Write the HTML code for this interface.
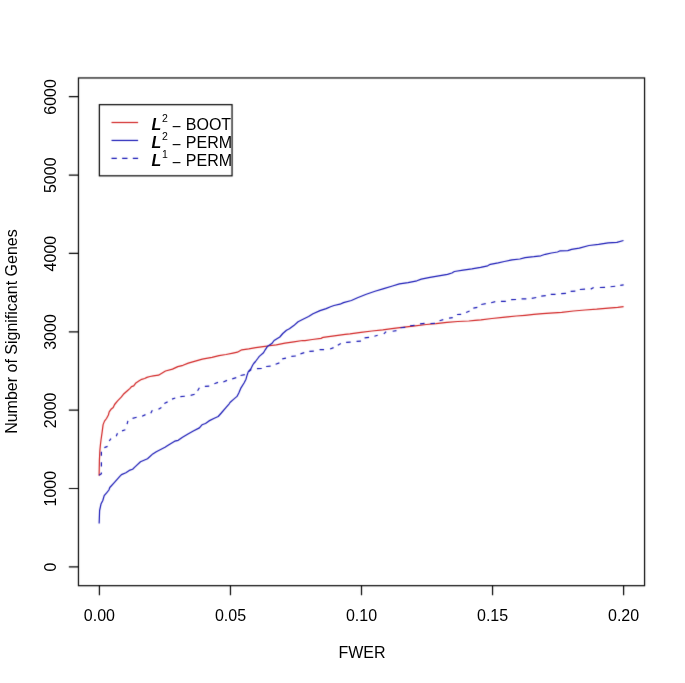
<!DOCTYPE html>
<html><head><meta charset="utf-8"><style>
html,body{margin:0;padding:0;background:#fff;}
svg{display:block;}
text{font-family:"Liberation Sans",Arial,sans-serif;font-size:16px;fill:#000;}
</style></head><body>
<svg width="685" height="683" viewBox="0 0 685 683">
<defs><filter id="bl" x="0" y="0" width="685" height="683" filterUnits="userSpaceOnUse" color-interpolation-filters="sRGB"><feConvolveMatrix order="3" kernelMatrix="0.01134 0.08382 0.01134 0.08382 0.61935 0.08382 0.01134 0.08382 0.01134" divisor="1" edgeMode="duplicate"/></filter></defs>
<g filter="url(#bl)">
<rect x="0" y="0" width="685" height="683" fill="#fff"/>
<g fill="none" stroke-width="1.2" stroke-linejoin="round" stroke-linecap="butt">
<path d="M99.10 475.80 L99.40 460.40 L99.90 450.10 L100.40 445.00 L101.00 440.00 L102.20 431.60 L103.10 424.60 L104.50 421.10 L106.50 418.50 L108.40 415.00 L109.20 411.90 L111.00 409.30 L113.20 407.50 L114.60 404.50 L117.60 400.90 L121.20 397.20 L123.40 394.30 L127.10 391.00 L130.00 388.40 L131.50 386.60 L133.70 385.90 L135.90 382.90 L138.80 381.10 L141.70 379.30 L144.70 378.50 L146.90 377.40 L150.00 376.50 L153.30 375.80 L158.50 375.20 L165.50 371.00 L172.50 369.10 L177.80 366.60 L183.00 365.30 L188.30 363.10 L195.30 361.20 L202.30 359.20 L205.00 358.60 L212.00 357.40 L219.00 355.70 L226.00 354.50 L233.00 353.10 L237.40 352.20 L241.80 349.80 L248.80 348.90 L255.80 347.60 L265.00 346.30 L267.50 346.00 L276.30 344.90 L285.00 343.10 L293.80 341.80 L302.50 340.50 L305.00 340.60 L312.30 339.50 L321.10 338.40 L323.20 337.30 L334.20 335.80 L345.10 334.40 L350.00 333.90 L360.90 332.40 L371.90 331.00 L382.80 329.90 L393.80 328.40 L400.00 327.60 L413.10 326.20 L426.30 324.50 L436.00 323.70 L446.90 322.30 L457.80 321.50 L468.80 321.00 L475.00 320.40 L481.00 319.90 L491.90 318.50 L502.80 317.40 L507.50 316.90 L516.30 316.00 L525.00 315.30 L533.80 314.40 L542.50 313.60 L550.00 313.10 L561.70 312.30 L573.40 311.00 L585.00 310.00 L596.70 309.20 L608.40 308.10 L617.70 307.30 L623.60 306.60" stroke="#d02020"/>
<path d="M99.15 523.40 L99.60 510.50 L101.00 504.10 L102.80 500.50 L104.20 495.60 L106.60 492.90 L108.90 490.00 L109.80 487.50 L114.50 482.30 L120.00 476.20 L121.50 474.60 L125.90 472.70 L130.00 470.10 L132.60 469.20 L135.30 466.60 L140.50 461.80 L147.50 458.70 L152.80 453.90 L156.30 451.70 L165.00 447.30 L168.50 445.10 L174.70 441.20 L178.20 440.30 L182.50 437.30 L188.00 434.00 L193.30 431.00 L199.40 427.90 L202.00 424.80 L205.50 423.50 L209.00 420.90 L214.30 418.30 L218.20 416.50 L221.30 413.00 L225.70 407.80 L229.20 403.80 L230.00 402.50 L233.50 399.40 L237.00 396.40 L238.80 392.90 L240.70 388.40 L244.20 382.80 L246.00 379.20 L247.10 375.20 L248.20 371.90 L250.80 369.00 L252.60 365.30 L253.70 363.50 L255.50 361.50 L258.10 358.00 L259.30 356.40 L263.50 352.80 L265.20 349.80 L267.30 346.60 L271.80 343.60 L274.10 340.50 L279.80 337.00 L282.80 333.50 L286.50 330.20 L289.40 328.70 L293.80 325.60 L298.10 321.70 L302.50 319.50 L308.60 316.50 L313.00 313.80 L320.00 310.60 L326.20 308.60 L330.50 306.80 L334.00 305.50 L340.00 304.20 L343.50 302.60 L351.40 300.50 L357.50 297.80 L366.30 294.30 L375.00 291.30 L383.80 288.60 L392.50 286.00 L399.40 283.90 L408.10 282.60 L416.90 280.80 L421.30 279.10 L430.00 277.30 L438.80 275.80 L447.50 274.40 L451.90 273.00 L454.40 271.50 L463.10 270.20 L471.90 268.90 L480.60 267.30 L487.70 265.80 L490.30 264.30 L498.20 262.90 L504.30 261.50 L512.00 259.80 L519.90 259.00 L525.10 257.60 L533.90 256.70 L540.90 255.80 L545.30 254.30 L551.40 253.00 L557.50 252.00 L560.20 250.80 L567.80 250.60 L571.60 249.40 L579.30 248.20 L589.00 245.50 L598.60 244.40 L608.20 242.90 L616.90 242.30 L623.50 240.50" stroke="#1414b4"/>
<path d="M99.10 475.30 L101.40 473.70 L101.40 472.50 M101.40 466.45 L101.40 462.25 M101.40 455.75 L101.40 451.75 M104.33 447.57 L107.57 446.33 M109.21 441.02 L110.99 438.58 M116.23 436.28 L117.47 433.32 M122.03 430.88 L125.37 429.72 M127.09 424.16 L127.91 420.94 M132.54 418.41 L136.66 417.29 M142.12 416.25 L145.48 414.65 M150.77 413.19 L152.33 410.31 M158.50 409.21 L161.40 407.39 M164.31 403.45 L167.59 401.85 M172.03 399.18 L175.27 398.02 M180.35 396.57 L184.85 396.23 M190.64 395.41 L194.66 394.29 M197.59 390.70 L199.41 387.80 M204.85 386.29 L209.25 386.11 M214.33 383.78 L217.97 382.42 M223.32 382.05 L226.98 380.35 M232.24 378.81 L236.26 377.69 M240.54 375.52 L244.86 374.58 M248.76 371.57 L251.24 369.43 M256.95 368.59 L261.75 368.51 M266.15 366.48 L270.65 366.22 M275.63 364.28 L279.37 362.92 M282.24 358.92 L285.96 358.08 M291.35 356.28 L295.85 356.02 M300.44 353.80 L304.26 352.70 M309.35 351.47 L313.85 351.03 M319.55 349.60 L324.05 349.60 M330.12 349.07 L333.58 347.63 M337.80 345.32 L340.80 343.48 M346.15 342.39 L350.65 342.21 M356.55 341.29 L360.95 341.21 M364.55 337.87 L369.05 337.43 M374.43 336.20 L377.67 335.20 M383.85 333.85 L386.15 331.55 M392.64 331.24 L396.46 330.56 M400.45 327.77 L405.25 327.33 M410.05 325.77 L414.55 325.43 M420.05 323.87 L424.55 323.43 M430.45 323.49 L434.95 323.41 M439.53 320.79 L443.27 319.61 M449.05 318.15 L452.75 317.65 M457.05 314.49 L461.15 314.31 M466.12 312.46 L469.58 310.94 M473.34 308.13 L477.36 307.37 M481.24 304.53 L485.76 303.67 M491.14 302.72 L495.26 301.68 M500.95 301.30 L505.85 301.30 M511.15 299.59 L516.05 299.51 M521.55 298.90 L526.35 298.90 M531.74 298.33 L536.26 297.47 M541.25 296.16 L545.75 295.64 M550.75 294.39 L555.55 294.31 M561.15 293.68 L565.95 293.42 M570.65 291.38 L575.35 291.12 M579.85 289.48 L585.05 289.12 M590.71 289.13 L593.69 287.47 M599.85 287.49 L605.05 287.31 M610.55 286.76 L615.25 286.24 M620.25 285.36 L623.65 284.94" stroke="#1414b4"/>
</g>
<g stroke="#000" stroke-width="1.2" fill="none">
<rect x="78.46" y="77.95" width="566.11" height="507.73"/>
<path d="M99.43 585.68V595.28M230.47 585.68V595.28M361.51 585.68V595.28M492.56 585.68V595.28M623.60 585.68V595.28M78.46 566.87H68.86M78.46 488.51H68.86M78.46 410.14H68.86M78.46 331.78H68.86M78.46 253.42H68.86M78.46 175.06H68.86M78.46 96.69H68.86"/>
</g>
<rect x="99.37" y="104.66" width="132.68" height="71.17" fill="#fff" stroke="#000" stroke-width="1.2"/>
<path d="M111.5 122.5H138.1" stroke="#d02020" stroke-width="1.2"/>
<path d="M111.5 140.45H138.1" stroke="#1414b4" stroke-width="1.2"/>
<path d="M111.5 158.4H138.1" stroke="#1414b4" stroke-width="1.2" stroke-dasharray="5.33 5.33"/>
</g>
<g text-anchor="middle">
<text x="99.43" y="620.6">0.00</text>
<text x="230.47" y="620.6">0.05</text>
<text x="361.51" y="620.6">0.10</text>
<text x="492.56" y="620.6">0.15</text>
<text x="623.60" y="620.6">0.20</text>
<text transform="translate(56.3 567.07) rotate(-90)">0</text>
<text transform="translate(56.3 488.71) rotate(-90)">1000</text>
<text transform="translate(56.3 410.34) rotate(-90)">2000</text>
<text transform="translate(56.3 331.98) rotate(-90)">3000</text>
<text transform="translate(56.3 253.62) rotate(-90)">4000</text>
<text transform="translate(56.3 175.25) rotate(-90)">5000</text>
<text transform="translate(56.3 96.89) rotate(-90)">6000</text>
<text x="362.0" y="658">FWER</text>
<text transform="translate(17.4 331.6) rotate(-90)">Number of Significant Genes</text>
</g>
<text x="151.5" y="130.00" font-weight="bold" font-style="italic">L</text>
<text x="161.9" y="122.00" style="font-size:10.5px">2</text>
<text x="171.8" y="131.90">−</text>
<text x="185.8" y="130.00">BOOT</text>
<text x="151.5" y="147.95" font-weight="bold" font-style="italic">L</text>
<text x="161.9" y="139.95" style="font-size:10.5px">2</text>
<text x="171.8" y="149.85">−</text>
<text x="185.8" y="147.95">PERM</text>
<text x="151.5" y="165.90" font-weight="bold" font-style="italic">L</text>
<text x="161.9" y="157.90" style="font-size:10.5px">1</text>
<text x="171.8" y="167.80">−</text>
<text x="185.8" y="165.90">PERM</text>
</svg>
</body></html>
